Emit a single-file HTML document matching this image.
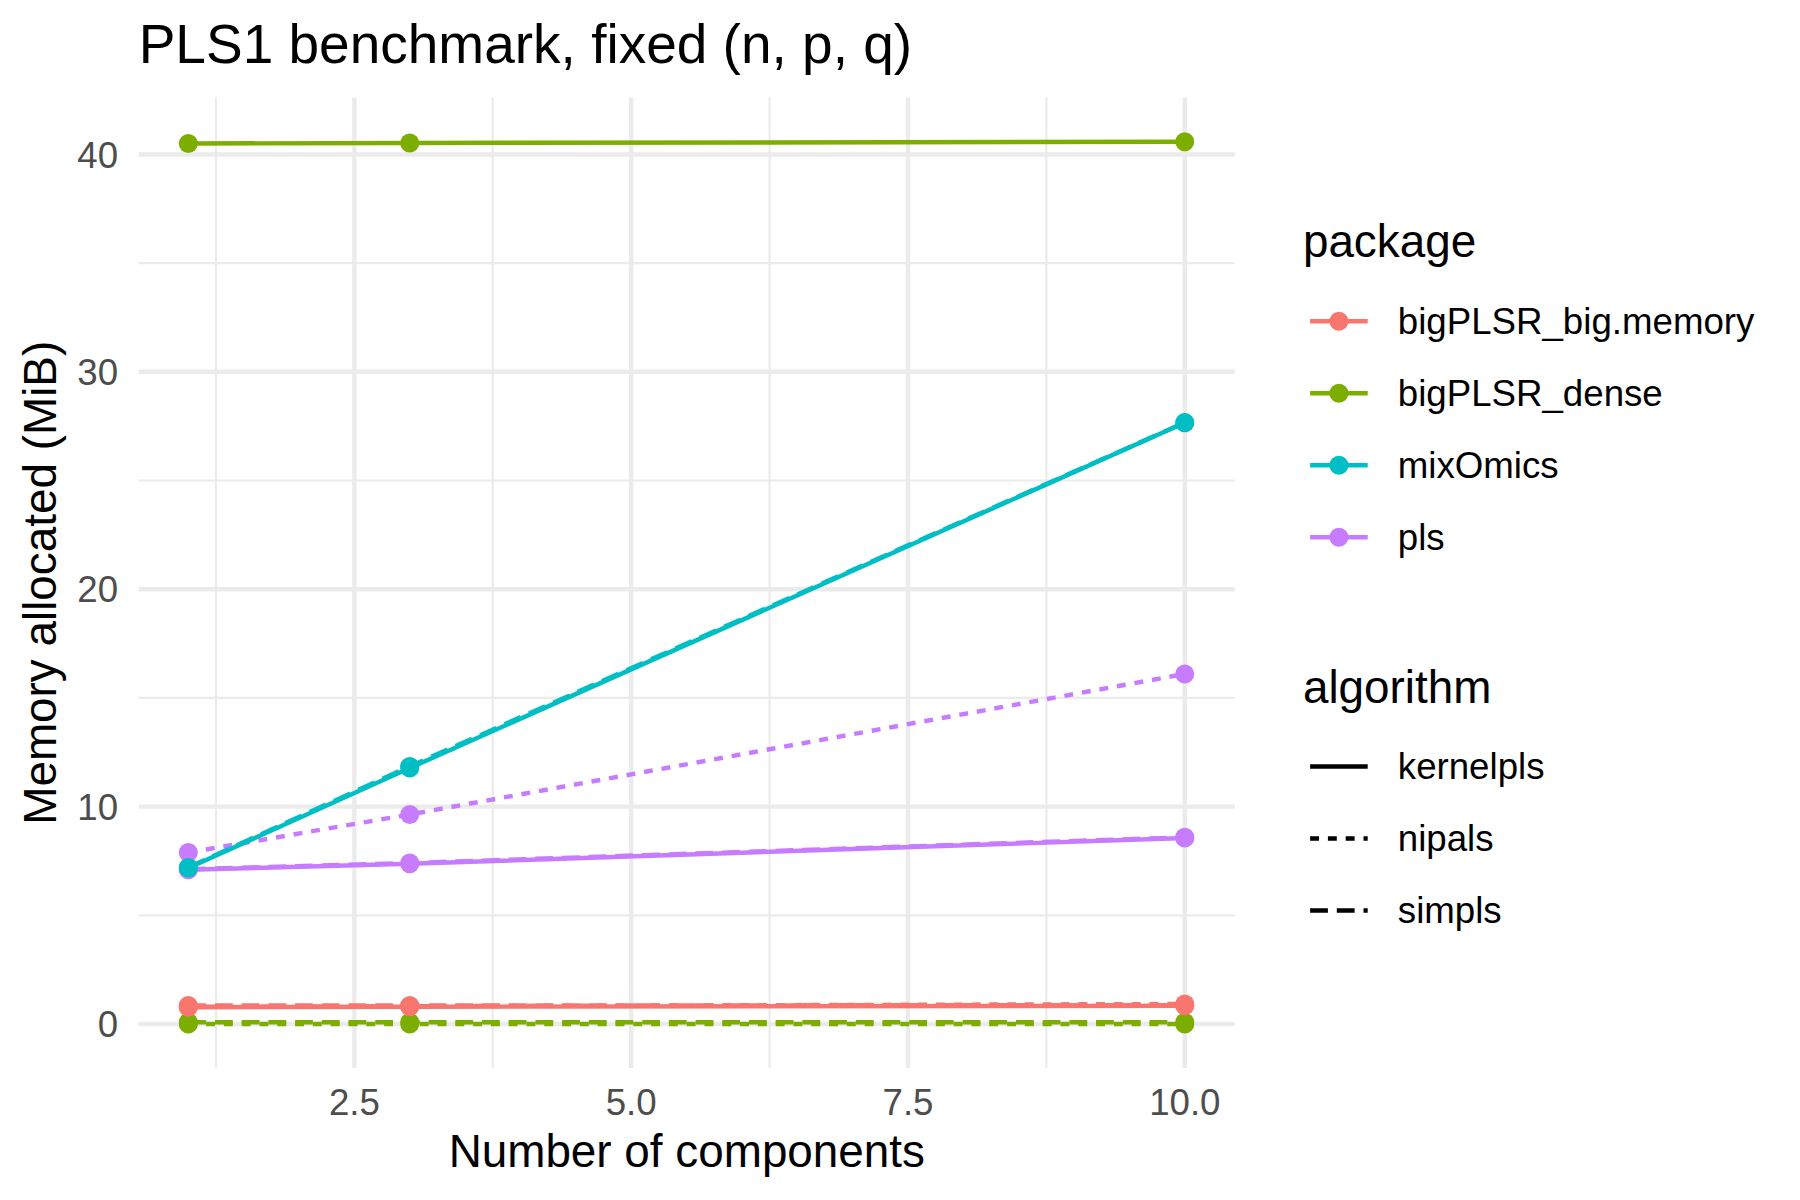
<!DOCTYPE html>
<html lang="en"><head><meta charset="utf-8"><title>PLS1 benchmark, fixed (n, p, q)</title>
<style>
html,body{margin:0;padding:0;background:#fff;}
body{width:1800px;height:1200px;overflow:hidden;}
svg{display:block;}
text{font-family:"Liberation Sans",sans-serif;}
</style></head><body>
<svg width="1800" height="1200" viewBox="0 0 1800 1200">
<rect width="1800" height="1200" fill="#fff"/>
<g><line x1="138.7" x2="1234.7" y1="915.30" y2="915.30" stroke="#EBEBEB" stroke-width="2.22"/>
<line x1="138.7" x2="1234.7" y1="697.90" y2="697.90" stroke="#EBEBEB" stroke-width="2.22"/>
<line x1="138.7" x2="1234.7" y1="480.50" y2="480.50" stroke="#EBEBEB" stroke-width="2.22"/>
<line x1="138.7" x2="1234.7" y1="263.10" y2="263.10" stroke="#EBEBEB" stroke-width="2.22"/>
<line y1="97.5" y2="1068.0" x1="215.98" x2="215.98" stroke="#EBEBEB" stroke-width="2.22"/>
<line y1="97.5" y2="1068.0" x1="492.77" x2="492.77" stroke="#EBEBEB" stroke-width="2.22"/>
<line y1="97.5" y2="1068.0" x1="769.56" x2="769.56" stroke="#EBEBEB" stroke-width="2.22"/>
<line y1="97.5" y2="1068.0" x1="1046.35" x2="1046.35" stroke="#EBEBEB" stroke-width="2.22"/>
<line x1="138.7" x2="1234.7" y1="1024.00" y2="1024.00" stroke="#EBEBEB" stroke-width="4.45"/>
<line x1="138.7" x2="1234.7" y1="806.60" y2="806.60" stroke="#EBEBEB" stroke-width="4.45"/>
<line x1="138.7" x2="1234.7" y1="589.20" y2="589.20" stroke="#EBEBEB" stroke-width="4.45"/>
<line x1="138.7" x2="1234.7" y1="371.80" y2="371.80" stroke="#EBEBEB" stroke-width="4.45"/>
<line x1="138.7" x2="1234.7" y1="154.40" y2="154.40" stroke="#EBEBEB" stroke-width="4.45"/>
<line y1="97.5" y2="1068.0" x1="354.38" x2="354.38" stroke="#EBEBEB" stroke-width="4.45"/>
<line y1="97.5" y2="1068.0" x1="631.17" x2="631.17" stroke="#EBEBEB" stroke-width="4.45"/>
<line y1="97.5" y2="1068.0" x1="907.96" x2="907.96" stroke="#EBEBEB" stroke-width="4.45"/>
<line y1="97.5" y2="1068.0" x1="1184.75" x2="1184.75" stroke="#EBEBEB" stroke-width="4.45"/></g>
<g><polyline points="188.30,869.80 409.73,863.75 1184.75,838.00" fill="none" stroke="#C77CFF" stroke-width="4.45" stroke-linejoin="round"/>
<polyline points="188.30,852.50 409.73,814.50 1184.75,674.00" fill="none" stroke="#C77CFF" stroke-width="4.45" stroke-linejoin="round" stroke-dasharray="8.90 8.90"/>
<polyline points="188.30,869.20 409.73,863.00 1184.75,837.30" fill="none" stroke="#C77CFF" stroke-width="4.45" stroke-linejoin="round" stroke-dasharray="17.80 8.90"/>
<polyline points="188.30,868.00 409.73,768.05 1184.75,422.80" fill="none" stroke="#00BFC4" stroke-width="4.45" stroke-linejoin="round"/>
<polyline points="188.30,867.40 409.73,766.40 1184.75,422.60" fill="none" stroke="#00BFC4" stroke-width="4.45" stroke-linejoin="round" stroke-dasharray="17.80 8.90"/>
<polyline points="188.30,143.50 409.73,143.00 1184.75,141.70" fill="none" stroke="#7CAE00" stroke-width="4.45" stroke-linejoin="round"/>
<polyline points="188.30,1024.00 409.73,1024.00 1184.75,1024.00" fill="none" stroke="#7CAE00" stroke-width="4.45" stroke-linejoin="round" stroke-dasharray="8.90 8.90"/>
<polyline points="188.30,1022.20 409.73,1022.20 1184.75,1022.20" fill="none" stroke="#7CAE00" stroke-width="4.45" stroke-linejoin="round" stroke-dasharray="17.80 8.90"/>
<polyline points="188.30,1007.20 409.73,1006.75 1184.75,1005.80" fill="none" stroke="#F8766D" stroke-width="4.45" stroke-linejoin="round"/>
<polyline points="188.30,1006.80 409.73,1006.20 1184.75,1004.00" fill="none" stroke="#F8766D" stroke-width="4.45" stroke-linejoin="round" stroke-dasharray="8.90 8.90"/>
<polyline points="188.30,1005.50 409.73,1005.40 1184.75,1005.30" fill="none" stroke="#F8766D" stroke-width="4.45" stroke-linejoin="round" stroke-dasharray="17.80 8.90"/></g>
<g><circle cx="188.30" cy="869.80" r="9.5" fill="#C77CFF"/>
<circle cx="409.73" cy="863.75" r="9.5" fill="#C77CFF"/>
<circle cx="1184.75" cy="838.00" r="9.5" fill="#C77CFF"/>
<circle cx="188.30" cy="852.50" r="9.5" fill="#C77CFF"/>
<circle cx="409.73" cy="814.50" r="9.5" fill="#C77CFF"/>
<circle cx="1184.75" cy="674.00" r="9.5" fill="#C77CFF"/>
<circle cx="188.30" cy="869.20" r="9.5" fill="#C77CFF"/>
<circle cx="409.73" cy="863.00" r="9.5" fill="#C77CFF"/>
<circle cx="1184.75" cy="837.30" r="9.5" fill="#C77CFF"/>
<circle cx="188.30" cy="868.00" r="9.5" fill="#00BFC4"/>
<circle cx="409.73" cy="768.05" r="9.5" fill="#00BFC4"/>
<circle cx="1184.75" cy="422.80" r="9.5" fill="#00BFC4"/>
<circle cx="188.30" cy="867.40" r="9.5" fill="#00BFC4"/>
<circle cx="409.73" cy="766.40" r="9.5" fill="#00BFC4"/>
<circle cx="1184.75" cy="422.60" r="9.5" fill="#00BFC4"/>
<circle cx="188.30" cy="143.50" r="9.5" fill="#7CAE00"/>
<circle cx="409.73" cy="143.00" r="9.5" fill="#7CAE00"/>
<circle cx="1184.75" cy="141.70" r="9.5" fill="#7CAE00"/>
<circle cx="188.30" cy="1024.00" r="9.5" fill="#7CAE00"/>
<circle cx="409.73" cy="1024.00" r="9.5" fill="#7CAE00"/>
<circle cx="1184.75" cy="1024.00" r="9.5" fill="#7CAE00"/>
<circle cx="188.30" cy="1022.20" r="9.5" fill="#7CAE00"/>
<circle cx="409.73" cy="1022.20" r="9.5" fill="#7CAE00"/>
<circle cx="1184.75" cy="1022.20" r="9.5" fill="#7CAE00"/>
<circle cx="188.30" cy="1007.20" r="9.5" fill="#F8766D"/>
<circle cx="409.73" cy="1006.75" r="9.5" fill="#F8766D"/>
<circle cx="1184.75" cy="1005.80" r="9.5" fill="#F8766D"/>
<circle cx="188.30" cy="1006.80" r="9.5" fill="#F8766D"/>
<circle cx="409.73" cy="1006.20" r="9.5" fill="#F8766D"/>
<circle cx="1184.75" cy="1004.00" r="9.5" fill="#F8766D"/>
<circle cx="188.30" cy="1005.50" r="9.5" fill="#F8766D"/>
<circle cx="409.73" cy="1005.40" r="9.5" fill="#F8766D"/>
<circle cx="1184.75" cy="1005.30" r="9.5" fill="#F8766D"/></g>
<g><text x="118.1" y="1037.2" font-size="36.67" fill="#4D4D4D" text-anchor="end">0</text>
<text x="118.1" y="819.8" font-size="36.67" fill="#4D4D4D" text-anchor="end">10</text>
<text x="118.1" y="602.4" font-size="36.67" fill="#4D4D4D" text-anchor="end">20</text>
<text x="118.1" y="385.0" font-size="36.67" fill="#4D4D4D" text-anchor="end">30</text>
<text x="118.1" y="167.6" font-size="36.67" fill="#4D4D4D" text-anchor="end">40</text>
<text x="354.4" y="1115.4" font-size="36.67" fill="#4D4D4D" text-anchor="middle">2.5</text>
<text x="631.2" y="1115.4" font-size="36.67" fill="#4D4D4D" text-anchor="middle">5.0</text>
<text x="908.0" y="1115.4" font-size="36.67" fill="#4D4D4D" text-anchor="middle">7.5</text>
<text x="1184.8" y="1115.4" font-size="36.67" fill="#4D4D4D" text-anchor="middle">10.0</text>
<text x="686.8" y="1167.2" font-size="45.83" fill="#000" text-anchor="middle">Number of components</text>
<text transform="translate(55.9,582.8) rotate(-90)" font-size="45.83" fill="#000" text-anchor="middle">Memory allocated (MiB)</text>
<text x="138.7" y="62.5" font-size="55.0" fill="#000">PLS1 benchmark, fixed (n, p, q)</text></g>
<g><text x="1302.9" y="256.7" font-size="45.83" fill="#000">package</text>
<line x1="1310.1" x2="1367.7" y1="321.2" y2="321.2" stroke="#F8766D" stroke-width="4.45"/>
<circle cx="1338.9" cy="321.2" r="9.5" fill="#F8766D"/>
<text x="1397.8" y="333.6" font-size="36.67" fill="#000">bigPLSR_big.memory</text>
<line x1="1310.1" x2="1367.7" y1="393.2" y2="393.2" stroke="#7CAE00" stroke-width="4.45"/>
<circle cx="1338.9" cy="393.2" r="9.5" fill="#7CAE00"/>
<text x="1397.8" y="405.6" font-size="36.67" fill="#000">bigPLSR_dense</text>
<line x1="1310.1" x2="1367.7" y1="465.2" y2="465.2" stroke="#00BFC4" stroke-width="4.45"/>
<circle cx="1338.9" cy="465.2" r="9.5" fill="#00BFC4"/>
<text x="1397.8" y="477.6" font-size="36.67" fill="#000">mixOmics</text>
<line x1="1310.1" x2="1367.7" y1="537.2" y2="537.2" stroke="#C77CFF" stroke-width="4.45"/>
<circle cx="1338.9" cy="537.2" r="9.5" fill="#C77CFF"/>
<text x="1397.8" y="549.6" font-size="36.67" fill="#000">pls</text>
<text x="1302.9" y="703.2" font-size="45.83" fill="#000">algorithm</text>
<line x1="1310.1" x2="1367.7" y1="766.4" y2="766.4" stroke="#000" stroke-width="4.45"/>
<text x="1397.8" y="778.8" font-size="36.67" fill="#000">kernelpls</text>
<line x1="1310.1" x2="1367.7" y1="838.4" y2="838.4" stroke="#000" stroke-width="4.45" stroke-dasharray="8.90 8.90"/>
<text x="1397.8" y="850.8" font-size="36.67" fill="#000">nipals</text>
<line x1="1310.1" x2="1367.7" y1="910.4" y2="910.4" stroke="#000" stroke-width="4.45" stroke-dasharray="17.80 8.90"/>
<text x="1397.8" y="922.8" font-size="36.67" fill="#000">simpls</text></g>
</svg>
</body></html>
